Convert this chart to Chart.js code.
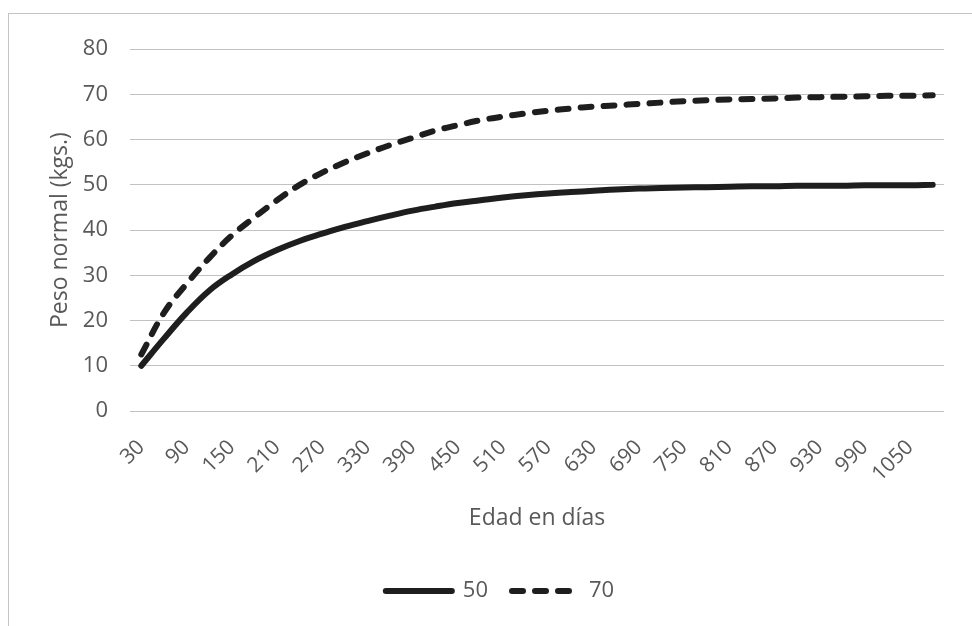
<!DOCTYPE html>
<html>
<head>
<meta charset="utf-8">
<script src="https://cdn.jsdelivr.net/npm/chart.js@4.4.1/dist/chart.umd.min.js"></script>
<style>
  body { margin: 0; overflow: hidden; background: #fff; }
  #frame {
    position: absolute; left: 8px; top: 13px; width: 987px; height: 640px;
    border-left: 1px solid #c4c4c4; border-top: 1px solid #c4c4c4;
  }
  #box { position: absolute; left: 0; top: 0; width: 987px; height: 612px; }
</style>
</head>
<body>
<div id="frame"><div id="box"><canvas id="pesoChart"></canvas></div></div>
<script>
// Edad en días (una categoría cada 30 días, etiqueta cada 60)
const days = [30, 60, 90, 120, 150, 180, 210, 240, 270, 300, 330, 360, 390, 420, 450,
  480, 510, 540, 570, 600, 630, 660, 690, 720, 750, 780, 810, 840, 870, 900,
  930, 960, 990, 1020, 1050, 1080];

// Peso normal (kgs.)
const peso50 = [10, 16.0, 21.7, 26.6, 30.2, 33.2, 35.6, 37.6, 39.2, 40.7, 42.0, 43.2,
  44.3, 45.2, 46.0, 46.6, 47.2, 47.7, 48.1, 48.4, 48.7, 49.0, 49.2, 49.3, 49.4,
  49.5, 49.6, 49.7, 49.7, 49.8, 49.8, 49.8, 49.9, 49.9, 49.9, 50.0];
const peso70 = [12.5, 21.7, 28.1, 33.8, 38.8, 42.8, 46.6, 50.0, 52.7, 55.0, 57.0, 58.8,
  60.4, 62.0, 63.2, 64.3, 65.1, 65.8, 66.4, 66.9, 67.3, 67.6, 67.9, 68.2, 68.5,
  68.7, 68.9, 69.0, 69.1, 69.3, 69.4, 69.5, 69.6, 69.7, 69.7, 69.8];

const seriesNames = ["50", "70"];
const yTicks = { min: 0, max: 80, step: 10 };

Chart.defaults.font.family = "'Open Sans', Lato, sans-serif";
Chart.defaults.font.size = 22;
Chart.defaults.color = "#595959";

const ctx = document.getElementById("pesoChart").getContext("2d");

new Chart(ctx, {
  type: "line",
  data: {
    labels: days,
    datasets: [
      {
        label: seriesNames[0],
        data: peso50,
        borderColor: "#1e1e1e",
        backgroundColor: "#1e1e1e",
        borderWidth: 6,
        borderCapStyle: "round",
        pointRadius: 0,
        pointStyle: "line",
        tension: 0.4,
      },
      {
        label: seriesNames[1],
        data: peso70,
        borderColor: "#1e1e1e",
        backgroundColor: "#1e1e1e",
        borderWidth: 6,
        borderDash: [11, 12],
        borderCapStyle: "round",
        pointRadius: 0,
        pointStyle: "line",
        tension: 0.4,
      },
    ],
  },
  options: {
    responsive: true,
    maintainAspectRatio: false,
    animation: false,
    layout: { padding: { left: 47, right: 52, top: 30, bottom: 14 } },
    scales: {
      x: {
        offset: true,
        grid: { display: false },
        border: { display: false },
        ticks: {
          autoSkip: false,
          maxRotation: 45,
          minRotation: 45,
          padding: 16,
          font: { size: 21 },
          callback: (value, index) => (index % 2 === 0 ? days[index] : ""),
        },
        title: {
          display: true,
          text: "Edad en días",
          font: { size: 23 },
          padding: { top: 0, bottom: 24 },
        },
        afterFit: (scale) => { scale.height = 145; },
      },
      y: {
        min: yTicks.min,
        max: yTicks.max,
        grid: { color: "#c2c2c2", lineWidth: 1, drawTicks: false },
        border: { display: false },
        ticks: { stepSize: yTicks.step, padding: 22 },
        title: {
          display: true,
          text: "Peso normal (kgs.)",
          font: { size: 23 },
          padding: { top: -9, bottom: 0 },
        },
        afterFit: (scale) => { scale.width = 74; },
      },
    },
    plugins: {
      legend: {
        position: "bottom",
        labels: {
          usePointStyle: true,
          pointStyleWidth: 66,
          padding: 24,
          generateLabels: (chart) => {
            const items = Chart.defaults.plugins.legend.labels.generateLabels(chart);
            items.forEach((item) => {
              const ds = chart.data.datasets[item.datasetIndex];
              item.lineDash = ds.borderDash || [];
              item.lineWidth = ds.borderWidth;
              item.lineCap = "round";
              item.strokeStyle = ds.borderColor;
            });
            return items;
          },
        },
      },
      tooltip: { enabled: false },
    },
  },
});
</script>
</body>
</html>
